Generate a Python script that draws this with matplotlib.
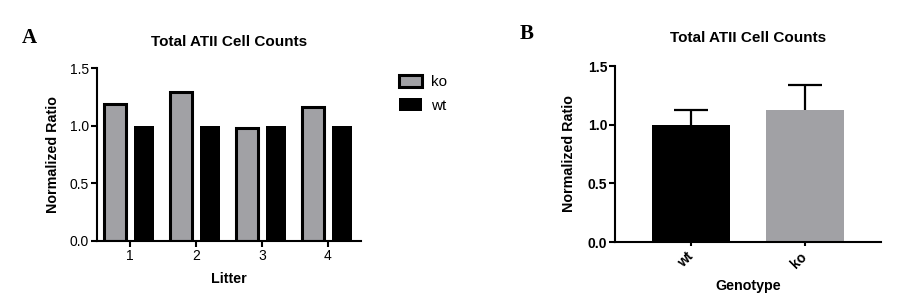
import matplotlib.pyplot as plt
import numpy as np

plt.rcParams['font.family'] = ['Liberation Sans', 'DejaVu Sans']

# panel A data
litters = ['1', '2', '3', '4']
ko_ratio = [1.19, 1.29, 0.98, 1.16]
wt_ratio = [1.00, 1.00, 1.00, 1.00]

# panel B data
genotypes = ['wt', 'ko']
mean_ratio = [1.00, 1.125]
sem_ratio = [0.125, 0.215]

gray = '#a1a1a5'
yticks = [0.0, 0.5, 1.0, 1.5]

fig = plt.figure(figsize=(9.22, 3.07), dpi=100)


def style_axes(ax):
    for s in ['top', 'right']:
        ax.spines[s].set_visible(False)
    for s in ['left', 'bottom']:
        ax.spines[s].set_linewidth(1.5)
    ax.tick_params(width=1.5, length=4, pad=1.5)
    ax.set_ylim(0, 1.5)
    ax.set_yticks(yticks)
    ax.set_yticklabels(['%.1f' % t for t in yticks])


# ---- A ----
axA = fig.add_axes([0.105, 0.215, 0.2865, 0.5635])
x = np.arange(1, len(litters) + 1)
axA.bar(x - 0.225, ko_ratio, width=0.34, color=gray, edgecolor='black',
        linewidth=2.2, label='ko')
axA.bar(x + 0.21, wt_ratio, width=0.30, color='black', label='wt')
style_axes(axA)
axA.set_xlim(0.5, 4.5)
axA.set_xticks(x)
axA.set_xticklabels(litters)
for lab in axA.get_xticklabels() + axA.get_yticklabels():
    lab.set_fontsize(10)
axA.set_title('Total ATII Cell Counts', fontsize=11, fontweight='bold', pad=16)
axA.set_ylabel('Normalized Ratio', fontsize=10.3, fontweight='bold')
axA.yaxis.set_label_coords(-0.14, 0.5)
axA.set_xlabel('Litter', fontsize=10.3, fontweight='bold', va='center')
axA.xaxis.set_label_coords(0.5, -0.22)
axA.legend(loc='upper left', bbox_to_anchor=(1.11, 1.015), frameon=False,
           fontsize=11, handlelength=1.5, handleheight=0.9, labelspacing=0.6,
           handletextpad=0.6, borderaxespad=0.2)
fig.text(0.032, 0.875, 'A', fontsize=15, fontweight='bold',
         family='Liberation Serif', ha='center', va='center')

# ---- B ----
axB = fig.add_axes([0.667, 0.2117, 0.2885, 0.573])
xb = np.arange(len(genotypes))
axB.bar(xb, mean_ratio, width=0.69, color=['black', gray])
eb = axB.errorbar(xb, mean_ratio, yerr=[[0, 0], sem_ratio], fmt='none',
                  ecolor='black', elinewidth=1.6, capsize=12.5, capthick=1.6,
                  zorder=0)
# only the upper cap is shown
for cap in eb[1]:
    if np.allclose(cap.get_ydata(), mean_ratio):
        cap.set_visible(False)
style_axes(axB)
axB.set_xlim(-0.67, 1.67)
axB.set_xticks(xb)
axB.set_xticklabels(genotypes, rotation=45, ha='right', va='center',
                    rotation_mode='anchor', fontsize=10, fontweight='bold')
axB.tick_params(axis='x', length=3, pad=6)
for lab in axB.get_yticklabels():
    lab.set_fontsize(10)
    lab.set_fontweight('bold')
axB.set_title('Total ATII Cell Counts', fontsize=11, fontweight='bold', pad=17)
axB.set_ylabel('Normalized Ratio', fontsize=10.3, fontweight='bold')
axB.yaxis.set_label_coords(-0.145, 0.5)
axB.set_xlabel('Genotype', fontsize=10.3, fontweight='bold', va='center')
axB.xaxis.set_label_coords(0.5, -0.25)
fig.text(0.571, 0.89, 'B', fontsize=15, fontweight='bold',
         family='Liberation Serif', ha='center', va='center')

fig.savefig('out.png', dpi=100)
